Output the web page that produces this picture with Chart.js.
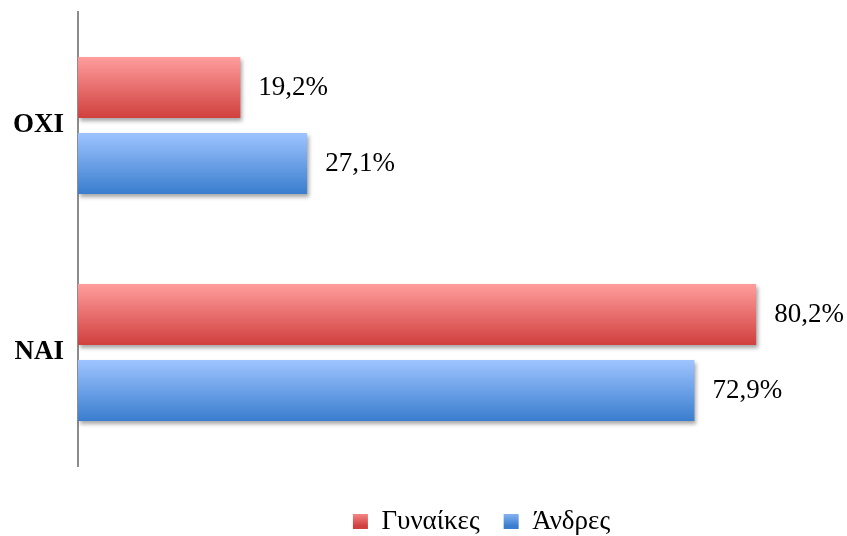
<!DOCTYPE html>
<html>
<head>
<meta charset="utf-8">
<script src="https://cdn.jsdelivr.net/npm/chart.js@4.4.0/dist/chart.umd.min.js"></script>
<style>
  html, body { margin: 0; padding: 0; background: #fff; }
  #wrap { width: 847px; height: 536px; }
</style>
</head>
<body>
<div id="wrap"><canvas id="chart"></canvas></div>
<script>
const categories = ['ΟΧΙ', 'ΝΑΙ'];
const seriesNames = ['Γυναίκες', 'Άνδρες'];
const women = [19.2, 80.2];
const men = [27.1, 72.9];

const FONT = "'Liberation Serif', 'Times New Roman', serif";

// top / bottom colours of each bar gradient
const redTop = 'rgb(255,157,157)', redBottom = 'rgb(208,64,62)';
const blueTop = 'rgb(158,196,255)', blueBottom = 'rgb(58,125,206)';

function gradientFill(top, bottom, flat) {
    return function (c) {
        const el = c.element;
        if (!el || el.y === undefined || isNaN(el.y) || !el.height) return flat;
        const ctx = c.chart.ctx;
        const g = ctx.createLinearGradient(0, el.y - el.height / 2, 0, el.y + el.height / 2);
        g.addColorStop(0, top);
        g.addColorStop(1, bottom);
        return g;
    };
}

const fmt = v => v.toFixed(1).replace('.', ',') + '%';

const barExtras = {
    id: 'barExtras',
    beforeLayout(chart) {
        // fixed legend height so the plot ends where the original does
        const leg = chart.legend;
        if (leg && !leg._patched) {
            const origFit = leg.fit.bind(leg);
            leg.fit = function () {
                origFit();
                this.height = 66;
            };
            leg._patched = true;
        }
    },
    afterLayout(chart) {
        // legend sits a bit right of centre and low in the original
        const leg = chart.legend;
        leg.left += 62;
        leg.right += 62;
        leg.top += 18;
        leg.bottom += 18;
    },
    beforeDatasetsDraw(chart) {
        const ctx = chart.ctx;
        ctx.save();
        ctx.shadowColor = 'rgba(0,0,0,0.35)';
        ctx.shadowBlur = 4;
        ctx.shadowOffsetX = 2;
        ctx.shadowOffsetY = 3;
    },
    afterDatasetsDraw(chart) {
        const ctx = chart.ctx;
        ctx.restore();
        ctx.save();
        ctx.font = '27px ' + FONT;
        ctx.fillStyle = '#000';
        ctx.textAlign = 'left';
        ctx.textBaseline = 'middle';
        chart.data.datasets.forEach((ds, i) => {
            chart.getDatasetMeta(i).data.forEach((el, j) => {
                ctx.fillText(fmt(ds.data[j]), el.x + 18, el.y);
            });
        });
        ctx.restore();
    }
};

const chart = new Chart(document.getElementById('chart'), {
    type: 'bar',
    data: {
        labels: categories,
        datasets: [
            {
                label: seriesNames[0],
                data: women,
                backgroundColor: gradientFill(redTop, redBottom, 'rgb(230,110,108)'),
                categoryPercentage: 0.67,
                barPercentage: 0.8
            },
            {
                label: seriesNames[1],
                data: men,
                backgroundColor: gradientFill(blueTop, blueBottom, 'rgb(108,160,230)'),
                categoryPercentage: 0.67,
                barPercentage: 0.8
            }
        ]
    },
    options: {
        indexAxis: 'y',
        responsive: true,
        maintainAspectRatio: false,
        animation: false,
        layout: { padding: { top: 12, right: 8, left: 0, bottom: 4 } },
        scales: {
            x: { display: false, min: 0, max: 90 },
            y: {
                grid: { display: false, drawTicks: false },
                border: { display: true, color: '#8c8c8c', width: 2 },
                ticks: { color: '#000', padding: 14, font: { family: FONT, size: 27, weight: 'bold' } },
                afterFit(scale) {
                    scale.width = 78;
                    scale.paddingTop = 0;
                    scale.paddingBottom = 0;
                }
            }
        },
        plugins: {
            tooltip: { enabled: false },
            legend: {
                position: 'bottom',
                labels: {
                    color: '#000',
                    boxWidth: 15,
                    boxHeight: 15,
                    padding: 24,
                    font: { family: FONT, size: 27 },
                    generateLabels(ch) {
                        const fills = [
                            [redTop, redBottom],
                            [blueTop, blueBottom]
                        ];
                        return ch.data.datasets.map((ds, i) => {
                            const g = ch.ctx.createLinearGradient(0, ch.height - 26, 0, ch.height - 10);
                            g.addColorStop(0, fills[i][0]);
                            g.addColorStop(1, fills[i][1]);
                            return {
                                text: ds.label,
                                fillStyle: g,
                                strokeStyle: 'rgba(0,0,0,0)',
                                lineWidth: 0,
                                fontColor: '#000',
                                datasetIndex: i
                            };
                        });
                    }
                }
            }
        }
    },
    plugins: [barExtras]
});
chart.update();
</script>
</body>
</html>
